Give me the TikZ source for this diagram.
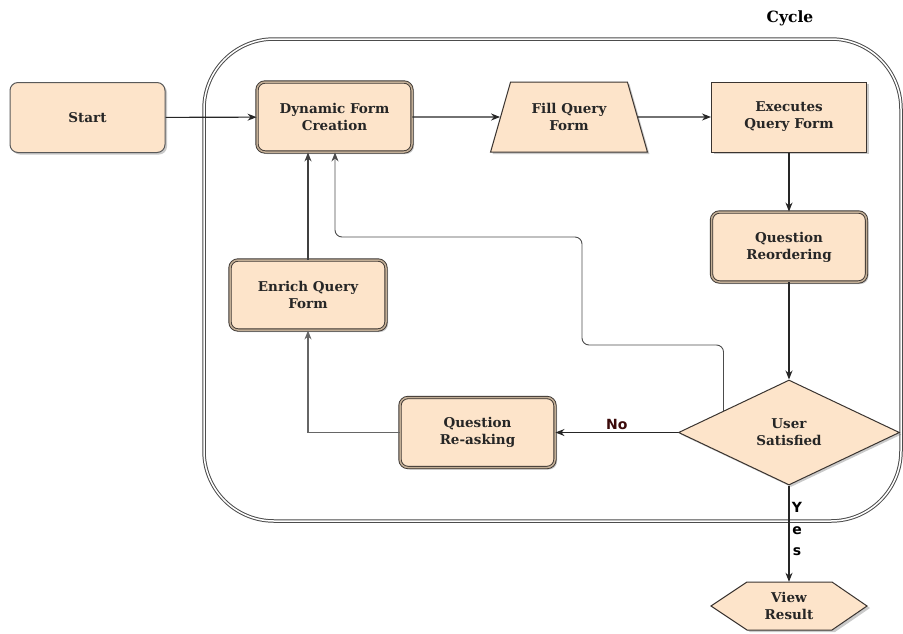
\documentclass[tikz,border=0pt]{standalone}
\usepackage{fontspec}
\setmainfont{DejaVu Serif}
\newfontfamily\sansbold{DejaVu Sans}
\usetikzlibrary{shapes.geometric,shadows,arrows.meta,calc}
\definecolor{peach}{HTML}{FDE4CA}
\definecolor{edgedark}{HTML}{3A3430}
\definecolor{dbl}{HTML}{C2AE96}
\definecolor{nored}{HTML}{3B0A0A}
\begin{document}
\begin{tikzpicture}[x=1pt,y=-1pt,
  txt/.style={font=\bfseries\fontsize{13.5}{17}\selectfont, align=center, text=black!85},
  shad/.style={drop shadow={shadow xshift=2pt, shadow yshift=-2pt, opacity=0.35, fill=black!60}},
  plainbox/.style={txt, shad, fill=peach, draw=edgedark, line width=1pt, minimum width=155pt, minimum height=70pt, inner sep=0pt},
  roundbox/.style={plainbox, rounded corners=8pt, draw=black!65},
  dblbox/.style={plainbox, rounded corners=8pt, draw=edgedark, double=dbl, double distance=1.5pt, line width=0.9pt},
  arr/.style={-{Stealth[length=9pt,width=7pt]}, line width=1.1pt, draw=black!85},
]
\useasboundingbox (0,0) rectangle (903,633);

% container
\draw[draw=black!70, double=white, double distance=1.5pt, line width=1pt, rounded corners=70pt]
  (204,39) rectangle (901,521);
\node[font=\bfseries\fontsize{15.5}{18}\selectfont] (title) at (790,18) {Cycle};

% nodes
\node[roundbox] (start) at (87.5,117.5) {Start};
\node[dblbox] (dfc) at (334.5,117) {Dynamic Form\\Creation};
\node[txt, shad, trapezium, trapezium left angle=65, trapezium right angle=65, trapezium stretches=true,
      fill=peach, draw=edgedark, line width=1pt, minimum width=158pt, minimum height=70pt, inner sep=0pt]
      (fill) at (569,117) {Fill Query\\Form};
\node[plainbox] (exec) at (789,117) {Executes\\Query Form};
\node[dblbox] (qr) at (789,247) {Question\\Reordering};
\node[dblbox, minimum width=156pt] (enr) at (308,295) {Enrich Query\\Form};
\node[dblbox] (ra) at (477.5,432.5) {Question\\Re-asking};
\node[txt, shad, diamond, fill=peach, draw=edgedark, line width=1pt, minimum width=221pt, minimum height=105pt, inner sep=0pt]
      (us) at (789,432.5) {User\\Satisfied};

% hexagon
\fill[black!60, opacity=0.35] (714,608) -- (750,584) -- (835,584) -- (870,608) -- (835,632) -- (750,632) -- cycle;
\draw[fill=peach, draw=edgedark, line width=1pt] (711,606) -- (747,582) -- (832,582) -- (867,606) -- (832,630) -- (747,630) -- cycle;
\node[txt, minimum width=120pt, minimum height=48pt, inner sep=0pt] (vr) at (789,606) {View\\Result};

% connectors
\draw[arr] (start) -- (dfc);
\draw[arr] (dfc) -- (fill);
\draw[arr] (fill) -- (exec);
\draw[arr] (exec) -- (qr);
\draw[arr] (qr) -- (us);
\draw[arr] (us.west) -- (ra.east)
  node[pos=0.5, above=-1pt, font=\sansbold\bfseries\fontsize{14}{16}\selectfont, text=nored] {No};
\draw[arr, draw=black!60] (ra.west) -| (enr.south);
\draw[arr, draw=black!75] (enr.north) -- (enr.north |- dfc.south);
\coordinate (p) at ($(us.west)!0.41!(us.north)$);
\coordinate (k1) at (582,345);
\coordinate (k2) at (335,237);
\draw[arr, draw=black!70, line width=0.9pt, rounded corners=7pt] (p) |- (k1) |- (k2) -- (k2 |- dfc.south);
\draw[arr] (us.south) -- (vr.north);
\node[font=\sansbold\bfseries\fontsize{14}{21.5}\selectfont, align=center, inner sep=0pt] (yes) at (797,529) {Y\\e\\s};
\end{tikzpicture}
\end{document}
